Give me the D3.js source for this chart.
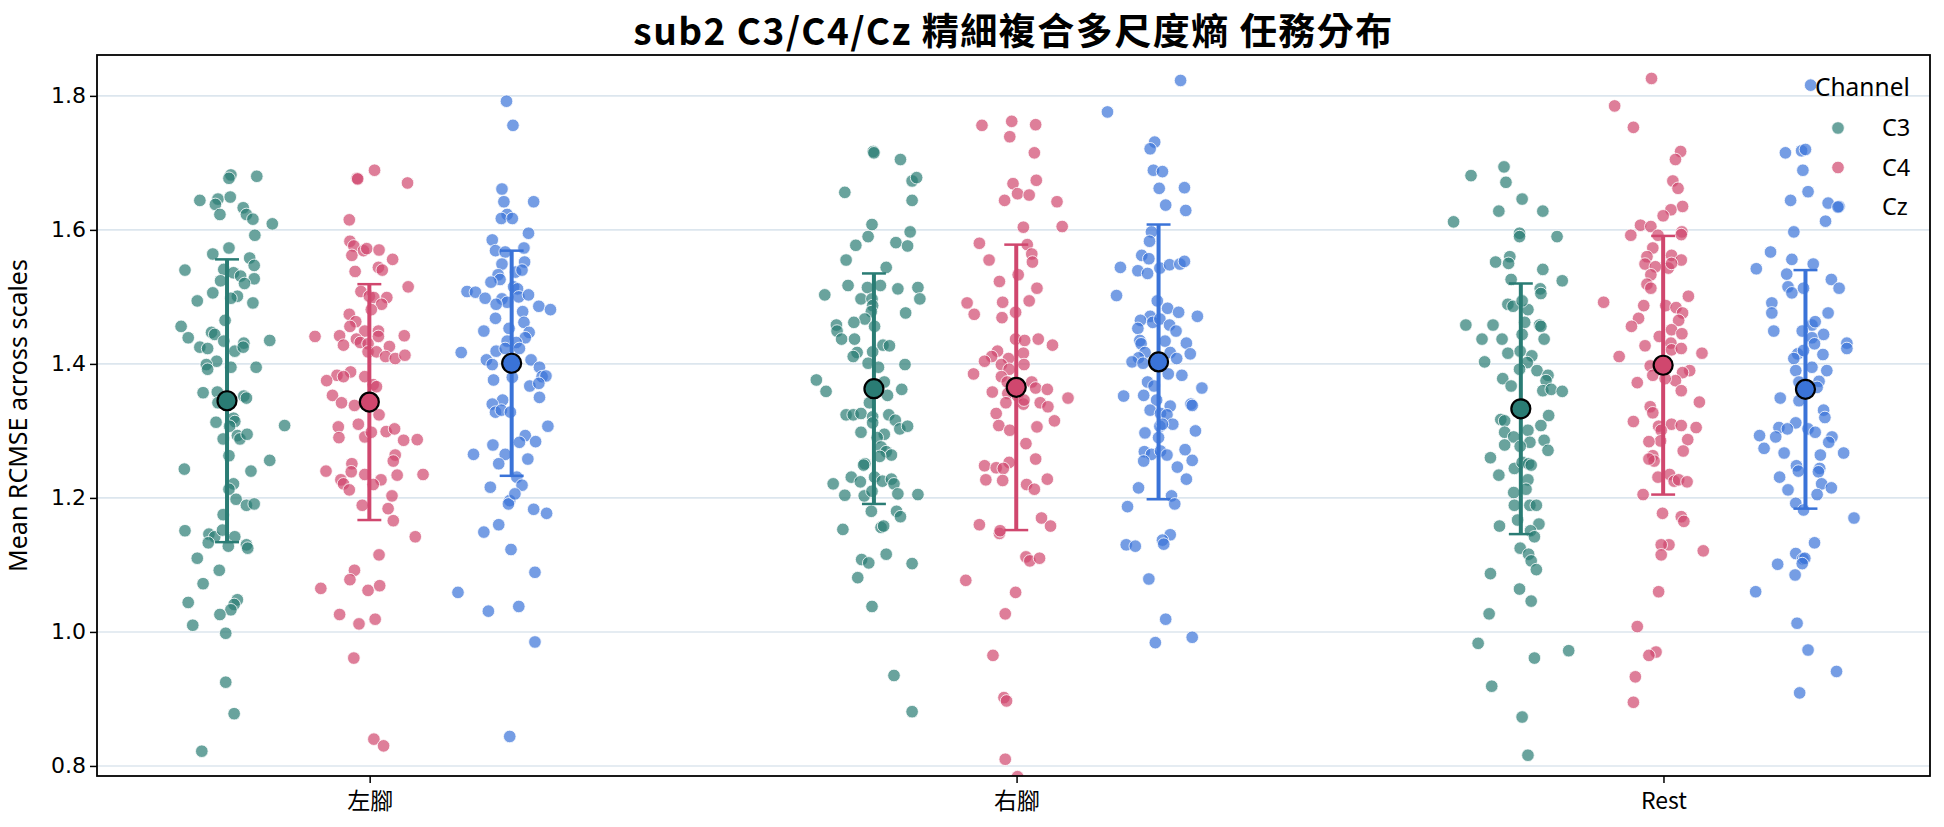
<!DOCTYPE html>
<html>
<head>
<meta charset="utf-8">
<script src="https://cdn.jsdelivr.net/npm/d3@7"></script>
<style>
  body { margin: 0; background: #fff; }
  svg { display: block; }
</style>
</head>
<body>
<svg id="chart"></svg>
<script>
// categories and channels
const categories = ["左腳", "右腳", "Rest"];
const channels = ["C3", "C4", "Cz"];
const yTicks = [0.8, 1.0, 1.2, 1.4, 1.6, 1.8];

// mean and sd per category, one array per channel
const meanC3 = [1.345, 1.363, 1.333];
const meanC4 = [1.343, 1.365, 1.398];
const meanCz = [1.401, 1.403, 1.362];
const sdC3 = [0.211, 0.172, 0.187];
const sdC4 = [0.176, 0.213, 0.193];
const sdCz = [0.168, 0.205, 0.178];

// strip points: [jitter (category units), mean RCMSE]
const leftC3 = [[0.006,1.682],[0.003,1.677],[0.046,1.680],[-0.042,1.644],[-0.014,1.646],[-0.018,1.638],[0.005,1.649],[-0.011,1.623],[0.025,1.633],[0.030,1.623],[0.040,1.616],[0.070,1.609],[0.043,1.592],[0.003,1.573],[-0.022,1.564],[0.035,1.558],[0.042,1.547],[-0.065,1.540],[-0.005,1.541],[0.010,1.536],[0.021,1.531],[0.042,1.527],[-0.010,1.524],[0.027,1.520],[0.016,1.501],[0.006,1.498],[-0.022,1.506],[-0.046,1.494],[0.040,1.491],[-0.071,1.456],[-0.003,1.465],[-0.060,1.439],[-0.024,1.447],[-0.019,1.444],[0.066,1.435],[-0.005,1.434],[0.026,1.431],[-0.042,1.425],[-0.030,1.423],[0.012,1.419],[0.025,1.425],[-0.016,1.404],[-0.032,1.399],[-0.030,1.392],[0.006,1.395],[0.045,1.395],[-0.037,1.357],[-0.015,1.358],[0.026,1.352],[0.030,1.349],[-0.014,1.342],[0.010,1.319],[0.012,1.314],[-0.017,1.313],[0.004,1.307],[0.089,1.308],[0.016,1.293],[0.020,1.288],[0.031,1.295],[-0.006,1.288],[0.003,1.263],[0.066,1.256],[-0.066,1.243],[0.037,1.240],[0.010,1.221],[0.003,1.213],[0.014,1.198],[0.030,1.189],[0.042,1.191],[-0.006,1.175],[-0.065,1.151],[-0.028,1.146],[-0.019,1.142],[-0.007,1.152],[0.012,1.142],[-0.029,1.133],[0.002,1.128],[0.030,1.130],[0.032,1.125],[-0.046,1.110],[-0.012,1.092],[-0.037,1.072],[-0.060,1.044],[0.016,1.048],[0.011,1.041],[0.006,1.033],[-0.011,1.026],[-0.053,1.010],[-0.002,0.998],[-0.002,0.925],[0.011,0.878],[-0.039,0.822]];
const leftC4 = [[0.008,1.689],[-0.019,1.677],[-0.018,1.676],[0.059,1.670],[-0.031,1.615],[-0.030,1.583],[-0.024,1.576],[-0.027,1.562],[-0.009,1.569],[-0.004,1.572],[0.015,1.570],[0.036,1.556],[0.014,1.544],[0.020,1.540],[-0.022,1.538],[0.060,1.515],[-0.013,1.508],[0.000,1.501],[0.007,1.499],[0.027,1.499],[0.019,1.489],[0.003,1.481],[-0.031,1.474],[-0.021,1.463],[-0.030,1.456],[-0.007,1.449],[0.014,1.449],[0.014,1.441],[-0.084,1.441],[-0.046,1.442],[0.054,1.442],[-0.040,1.428],[-0.020,1.437],[-0.014,1.432],[-0.002,1.430],[0.031,1.426],[-0.002,1.418],[0.011,1.418],[0.025,1.411],[0.040,1.408],[0.055,1.413],[-0.029,1.388],[-0.050,1.383],[-0.040,1.381],[-0.066,1.375],[-0.007,1.381],[0.006,1.369],[0.011,1.366],[-0.057,1.353],[-0.043,1.342],[-0.023,1.338],[0.015,1.324],[-0.017,1.310],[-0.048,1.306],[-0.047,1.290],[0.026,1.299],[0.039,1.303],[0.053,1.286],[0.074,1.287],[-0.007,1.291],[0.003,1.298],[0.040,1.264],[0.037,1.255],[-0.027,1.251],[-0.067,1.240],[-0.028,1.239],[-0.007,1.235],[-0.044,1.227],[-0.040,1.221],[-0.031,1.212],[0.018,1.227],[0.043,1.234],[0.083,1.235],[0.006,1.220],[0.035,1.203],[-0.011,1.189],[0.029,1.184],[0.037,1.166],[0.071,1.142],[0.015,1.115],[-0.023,1.092],[-0.030,1.078],[-0.075,1.065],[-0.002,1.062],[0.016,1.069],[-0.046,1.026],[-0.016,1.012],[0.009,1.019],[-0.024,0.961],[0.007,0.840],[0.022,0.830]];
const leftCz = [[-0.008,1.792],[0.002,1.756],[-0.015,1.661],[-0.012,1.642],[0.034,1.642],[-0.007,1.623],[-0.016,1.617],[0.001,1.617],[0.026,1.595],[-0.030,1.585],[-0.025,1.569],[-0.010,1.567],[0.019,1.573],[0.020,1.552],[-0.015,1.549],[0.006,1.537],[0.016,1.540],[-0.021,1.533],[-0.018,1.526],[-0.032,1.522],[0.003,1.515],[0.009,1.512],[-0.069,1.508],[-0.056,1.507],[-0.041,1.498],[-0.015,1.497],[-0.007,1.492],[0.011,1.500],[0.026,1.503],[0.042,1.486],[0.060,1.481],[-0.024,1.489],[0.017,1.478],[-0.025,1.468],[0.019,1.462],[-0.043,1.449],[-0.004,1.453],[0.027,1.447],[0.021,1.439],[-0.007,1.434],[0.007,1.432],[-0.024,1.419],[-0.010,1.423],[0.012,1.423],[-0.078,1.417],[-0.039,1.406],[-0.030,1.399],[0.030,1.406],[0.043,1.395],[0.047,1.381],[0.053,1.382],[0.001,1.380],[-0.028,1.376],[0.028,1.367],[0.042,1.371],[0.043,1.350],[-0.014,1.346],[-0.030,1.340],[-0.025,1.328],[-0.016,1.331],[-0.002,1.328],[0.056,1.307],[0.021,1.293],[0.012,1.283],[0.037,1.284],[-0.029,1.279],[-0.059,1.265],[-0.010,1.265],[-0.020,1.251],[0.025,1.258],[0.008,1.231],[-0.033,1.216],[0.016,1.219],[-0.003,1.196],[-0.005,1.191],[0.005,1.206],[0.034,1.183],[0.054,1.177],[-0.020,1.160],[-0.043,1.149],[-0.001,1.123],[0.036,1.089],[-0.083,1.059],[-0.036,1.031],[0.011,1.038],[0.036,0.985],[-0.003,0.844]];
const rightC3 = [[-0.001,1.717],[0.000,1.715],[0.041,1.705],[0.059,1.673],[0.066,1.678],[-0.045,1.656],[0.059,1.644],[-0.003,1.608],[-0.009,1.590],[0.056,1.597],[-0.028,1.577],[0.034,1.581],[0.052,1.576],[-0.043,1.555],[0.019,1.544],[-0.040,1.517],[-0.010,1.514],[0.010,1.517],[0.037,1.512],[0.068,1.514],[0.071,1.497],[-0.076,1.503],[-0.020,1.497],[-0.003,1.497],[-0.002,1.487],[-0.004,1.478],[0.049,1.476],[-0.014,1.467],[-0.031,1.462],[0.001,1.456],[-0.058,1.458],[-0.057,1.449],[-0.050,1.437],[-0.030,1.437],[0.014,1.428],[0.024,1.427],[-0.026,1.417],[-0.032,1.411],[-0.002,1.418],[-0.009,1.401],[0.007,1.395],[0.048,1.399],[-0.089,1.376],[-0.074,1.359],[0.016,1.373],[0.021,1.353],[0.043,1.362],[-0.007,1.342],[-0.043,1.324],[-0.032,1.324],[-0.020,1.326],[-0.002,1.321],[0.023,1.324],[0.033,1.316],[0.040,1.303],[0.052,1.307],[-0.002,1.312],[-0.020,1.298],[0.016,1.295],[0.005,1.290],[0.011,1.276],[0.019,1.269],[0.027,1.264],[0.009,1.262],[-0.014,1.251],[-0.016,1.249],[-0.063,1.221],[-0.035,1.231],[-0.021,1.224],[0.001,1.231],[0.013,1.225],[0.027,1.228],[0.031,1.221],[-0.045,1.204],[-0.015,1.203],[-0.003,1.210],[0.037,1.206],[0.068,1.205],[-0.004,1.180],[0.035,1.180],[0.041,1.172],[-0.048,1.153],[0.011,1.156],[0.015,1.158],[-0.019,1.108],[-0.008,1.103],[0.019,1.116],[0.059,1.102],[-0.025,1.081],[-0.003,1.038],[0.031,0.935],[0.059,0.881]];
const rightC4 = [[-0.053,1.756],[-0.007,1.762],[0.030,1.757],[-0.010,1.739],[0.028,1.715],[-0.005,1.669],[0.031,1.674],[0.002,1.654],[0.020,1.652],[-0.018,1.644],[0.063,1.642],[0.011,1.604],[0.071,1.605],[-0.057,1.580],[0.017,1.578],[0.024,1.564],[-0.042,1.555],[0.025,1.552],[0.003,1.533],[-0.026,1.523],[0.032,1.513],[-0.076,1.491],[-0.021,1.492],[0.020,1.494],[-0.065,1.474],[-0.022,1.469],[-0.001,1.477],[-0.001,1.437],[0.013,1.435],[0.034,1.437],[0.056,1.428],[-0.029,1.419],[-0.038,1.411],[-0.049,1.404],[-0.012,1.408],[0.011,1.416],[-0.023,1.399],[0.012,1.399],[-0.066,1.385],[-0.011,1.392],[-0.023,1.381],[-0.014,1.373],[0.024,1.373],[0.030,1.364],[0.048,1.362],[-0.037,1.358],[-0.013,1.356],[0.002,1.352],[0.011,1.340],[0.012,1.346],[0.037,1.342],[0.049,1.336],[0.080,1.349],[-0.031,1.326],[-0.016,1.342],[0.059,1.315],[-0.027,1.308],[-0.010,1.301],[0.032,1.306],[0.015,1.281],[0.030,1.258],[-0.011,1.253],[-0.049,1.248],[-0.031,1.245],[-0.020,1.244],[-0.047,1.227],[-0.021,1.226],[0.016,1.220],[0.028,1.213],[0.048,1.228],[-0.057,1.160],[0.039,1.170],[0.053,1.158],[-0.026,1.147],[-0.025,1.151],[0.015,1.112],[0.021,1.106],[0.036,1.110],[-0.078,1.077],[-0.001,1.059],[-0.017,1.027],[-0.036,0.965],[-0.019,0.902],[-0.015,0.897],[-0.017,0.810],[0.002,0.784]];
const rightCz = [[0.034,1.823],[-0.079,1.776],[-0.006,1.731],[-0.013,1.721],[-0.008,1.689],[0.006,1.687],[0.001,1.662],[0.040,1.663],[0.011,1.637],[0.042,1.629],[-0.011,1.597],[-0.014,1.583],[-0.026,1.562],[-0.015,1.557],[-0.059,1.544],[-0.032,1.539],[-0.017,1.535],[0.002,1.543],[0.017,1.548],[0.033,1.549],[0.040,1.553],[-0.065,1.502],[-0.002,1.494],[0.014,1.483],[0.031,1.477],[0.060,1.471],[-0.013,1.471],[-0.028,1.465],[-0.009,1.462],[0.002,1.467],[-0.032,1.453],[0.017,1.458],[0.027,1.449],[-0.029,1.435],[-0.027,1.430],[0.010,1.434],[0.043,1.431],[0.049,1.415],[-0.021,1.417],[-0.031,1.409],[-0.041,1.403],[0.018,1.417],[0.028,1.408],[-0.024,1.401],[0.015,1.385],[0.036,1.383],[0.067,1.364],[-0.054,1.352],[-0.023,1.353],[-0.017,1.373],[-0.007,1.367],[-0.003,1.346],[0.018,1.337],[0.050,1.340],[0.052,1.338],[-0.013,1.331],[0.003,1.326],[0.013,1.324],[0.022,1.310],[0.002,1.307],[0.006,1.310],[0.057,1.300],[-0.021,1.297],[0.000,1.290],[-0.022,1.269],[-0.011,1.265],[0.003,1.270],[0.013,1.264],[0.041,1.272],[0.052,1.256],[-0.023,1.255],[0.029,1.246],[0.043,1.228],[-0.031,1.215],[0.020,1.203],[0.025,1.191],[-0.048,1.187],[0.018,1.145],[0.006,1.137],[0.008,1.131],[-0.050,1.130],[-0.036,1.128],[-0.015,1.079],[0.011,1.019],[-0.005,0.984],[0.052,0.992]];
const restC3 = [[-0.026,1.694],[-0.077,1.681],[-0.023,1.671],[0.002,1.646],[-0.034,1.628],[0.034,1.628],[-0.104,1.612],[-0.002,1.595],[-0.002,1.590],[0.056,1.590],[-0.017,1.560],[-0.039,1.552],[-0.019,1.550],[0.034,1.541],[-0.015,1.526],[0.064,1.524],[0.030,1.512],[0.031,1.505],[-0.020,1.489],[-0.012,1.486],[0.011,1.481],[0.002,1.494],[-0.085,1.458],[-0.043,1.458],[0.006,1.462],[0.029,1.458],[0.031,1.456],[-0.060,1.437],[-0.029,1.437],[0.002,1.444],[0.036,1.437],[-0.020,1.416],[-0.001,1.419],[0.017,1.412],[-0.056,1.403],[0.010,1.402],[-0.002,1.392],[0.025,1.390],[-0.028,1.378],[-0.015,1.367],[0.042,1.383],[0.039,1.375],[0.034,1.360],[0.047,1.362],[0.064,1.359],[0.043,1.323],[-0.031,1.317],[-0.025,1.315],[0.031,1.308],[-0.025,1.298],[-0.011,1.291],[0.011,1.301],[0.014,1.283],[0.036,1.286],[-0.025,1.279],[-0.001,1.277],[0.042,1.271],[-0.047,1.260],[-0.010,1.244],[0.002,1.253],[0.012,1.251],[0.016,1.249],[-0.034,1.234],[0.011,1.227],[0.008,1.213],[-0.011,1.208],[0.014,1.189],[0.024,1.189],[-0.010,1.189],[-0.005,1.167],[0.028,1.161],[-0.033,1.158],[0.015,1.151],[0.021,1.142],[-0.001,1.125],[0.012,1.116],[0.016,1.106],[0.024,1.093],[-0.047,1.087],[-0.002,1.064],[0.016,1.046],[-0.049,1.027],[-0.066,0.983],[0.021,0.961],[0.074,0.972],[-0.045,0.919],[0.002,0.873],[0.011,0.816]];
const restC4 = [[-0.018,1.826],[-0.075,1.785],[-0.046,1.753],[0.027,1.717],[0.019,1.705],[0.015,1.673],[0.023,1.662],[0.030,1.635],[0.012,1.630],[0.000,1.621],[-0.035,1.607],[-0.019,1.605],[-0.050,1.592],[0.029,1.597],[0.028,1.593],[-0.008,1.592],[-0.016,1.573],[-0.025,1.560],[-0.028,1.549],[-0.012,1.545],[0.013,1.562],[0.028,1.555],[0.008,1.543],[0.013,1.550],[-0.019,1.533],[-0.025,1.519],[-0.019,1.513],[-0.092,1.492],[0.039,1.501],[-0.030,1.487],[0.004,1.487],[0.020,1.484],[0.030,1.476],[-0.038,1.468],[0.024,1.465],[-0.049,1.456],[0.013,1.451],[0.029,1.445],[-0.006,1.441],[0.012,1.431],[-0.028,1.427],[0.013,1.421],[0.028,1.423],[-0.068,1.411],[0.060,1.416],[-0.020,1.397],[0.041,1.390],[0.030,1.387],[-0.016,1.383],[0.019,1.375],[-0.040,1.372],[0.003,1.378],[0.028,1.360],[0.056,1.343],[-0.020,1.336],[-0.016,1.327],[-0.046,1.314],[0.013,1.310],[-0.007,1.307],[0.028,1.308],[-0.003,1.301],[0.051,1.305],[-0.004,1.285],[-0.022,1.284],[0.038,1.287],[0.031,1.270],[-0.016,1.263],[-0.014,1.255],[-0.022,1.258],[-0.008,1.231],[0.010,1.235],[0.017,1.225],[0.024,1.227],[0.037,1.224],[-0.031,1.205],[-0.001,1.177],[0.028,1.172],[0.032,1.165],[0.062,1.121],[0.009,1.130],[-0.003,1.130],[-0.003,1.115],[-0.007,1.060],[-0.040,1.008],[-0.011,0.970],[-0.022,0.965],[-0.043,0.933],[-0.046,0.895]];
const restCz = [[0.008,1.816],[-0.031,1.715],[-0.006,1.718],[0.000,1.720],[-0.004,1.689],[-0.023,1.644],[0.004,1.657],[0.035,1.640],[0.052,1.635],[0.031,1.613],[-0.018,1.597],[-0.054,1.567],[-0.076,1.542],[-0.021,1.556],[0.012,1.549],[-0.029,1.534],[0.040,1.526],[0.052,1.513],[-0.027,1.515],[-0.021,1.506],[-0.003,1.513],[-0.052,1.491],[-0.052,1.476],[0.035,1.476],[-0.049,1.449],[0.010,1.458],[0.015,1.463],[0.028,1.444],[-0.005,1.449],[0.010,1.439],[0.014,1.430],[0.064,1.431],[0.064,1.423],[-0.012,1.415],[-0.018,1.408],[-0.003,1.420],[0.027,1.414],[0.010,1.395],[0.033,1.390],[-0.015,1.390],[0.021,1.374],[-0.010,1.373],[-0.039,1.349],[-0.010,1.345],[0.018,1.365],[0.028,1.331],[0.030,1.320],[-0.015,1.312],[-0.041,1.305],[-0.028,1.303],[-0.046,1.291],[-0.071,1.293],[-0.064,1.274],[0.004,1.303],[0.015,1.298],[0.041,1.291],[0.036,1.283],[-0.033,1.267],[0.023,1.264],[0.059,1.267],[-0.014,1.248],[-0.011,1.240],[0.022,1.244],[0.020,1.239],[-0.040,1.231],[0.025,1.221],[0.040,1.215],[-0.027,1.212],[0.018,1.205],[-0.015,1.192],[-0.003,1.182],[0.075,1.170],[0.014,1.133],[-0.015,1.117],[-0.004,1.109],[-0.001,1.110],[-0.005,1.102],[-0.043,1.101],[-0.016,1.085],[-0.077,1.060],[-0.013,1.013],[0.004,0.973],[0.048,0.941],[-0.009,0.909]];

const width = 1944;
const height = 827;
const margin = {top: 55, right: 14, bottom: 51, left: 97};

const colors = {C3: "#2a7c74", C4: "#d0476e", Cz: "#3a73d8"};
const fontLatin = "'Noto Sans', 'Noto Sans CJK TC', sans-serif";
const fontCJK = "'Noto Sans CJK TC', 'Noto Sans', sans-serif";

// build groups from the named arrays
const pointsBy = {C3: [leftC3, rightC3, restC3], C4: [leftC4, rightC4, restC4], Cz: [leftCz, rightCz, restCz]};
const meanBy = {C3: meanC3, C4: meanC4, Cz: meanCz};
const sdBy = {C3: sdC3, C4: sdC4, Cz: sdCz};

const groups = [];
categories.forEach((cat, i) => {
  channels.forEach(ch => {
    groups.push({cat: i, ch, points: pointsBy[ch][i], mean: meanBy[ch][i], sd: sdBy[ch][i]});
  });
});

const svg = d3.select("#chart")
  .attr("width", width)
  .attr("height", height)
  .style("font-family", fontLatin);

const x = d3.scaleLinear([-0.4215, 2.412], [margin.left, width - margin.right]);
const y = d3.scaleLinear([0.785, 1.861], [height - margin.bottom, margin.top]);
const dodge = d3.scalePoint(channels, [-0.2205, 0.2195]);

svg.append("defs").append("clipPath").attr("id", "plotClip")
  .append("rect")
  .attr("x", margin.left).attr("y", margin.top)
  .attr("width", width - margin.left - margin.right)
  .attr("height", height - margin.top - margin.bottom);

// grid
svg.append("g")
  .selectAll("line")
  .data(yTicks)
  .join("line")
  .attr("x1", margin.left).attr("x2", width - margin.right)
  .attr("y1", d => y(d)).attr("y2", d => y(d))
  .attr("stroke", "#dce6ee")
  .attr("stroke-width", 1.6);

// strip points
const plot = svg.append("g").attr("clip-path", "url(#plotClip)");
groups.forEach(g => {
  plot.append("g")
    .selectAll("circle")
    .data(g.points)
    .join("circle")
    .attr("cx", d => x(g.cat + dodge(g.ch) + d[0]))
    .attr("cy", d => y(d[1]))
    .attr("r", 6.3)
    .attr("fill", colors[g.ch])
    .attr("fill-opacity", 0.7)
    .attr("stroke", "#fff")
    .attr("stroke-width", 0.8);
});

// error bars (mean ± sd) and mean markers
const capHalf = 0.0185;
groups.forEach(g => {
  const cx = g.cat + dodge(g.ch);
  const e = svg.append("g").attr("stroke", colors[g.ch]);
  e.append("line")
    .attr("x1", x(cx)).attr("x2", x(cx))
    .attr("y1", y(g.mean - g.sd)).attr("y2", y(g.mean + g.sd))
    .attr("stroke-width", 4);
  [g.mean - g.sd, g.mean + g.sd].forEach(v => {
    e.append("line")
      .attr("x1", x(cx - capHalf)).attr("x2", x(cx + capHalf))
      .attr("y1", y(v)).attr("y2", y(v))
      .attr("stroke-width", 2.5);
  });
  svg.append("circle")
    .attr("cx", x(cx))
    .attr("cy", y(g.mean))
    .attr("r", 9.5)
    .attr("fill", colors[g.ch])
    .attr("stroke", "#000")
    .attr("stroke-width", 2.2);
});

// axes
const yAxis = svg.append("g")
  .attr("transform", `translate(${margin.left},0)`)
  .call(d3.axisLeft(y).tickValues(yTicks).tickFormat(d3.format(".1f")).tickSize(7).tickPadding(4))
  .call(g => g.select(".domain").remove());
yAxis.selectAll(".tick line").attr("stroke", "#000").attr("stroke-width", 1.5);
yAxis.selectAll(".tick text")
  .attr("fill", "#000")
  .style("font-family", "'DejaVu Sans', sans-serif")
  .style("font-size", "22px");

const xAxis = svg.append("g")
  .attr("transform", `translate(0,${height - margin.bottom})`)
  .call(d3.axisBottom(x).tickValues([0, 1, 2]).tickFormat(i => categories[i]).tickSize(7).tickPadding(10))
  .call(g => g.select(".domain").remove());
xAxis.selectAll(".tick line").attr("stroke", "#000").attr("stroke-width", 1.5);
xAxis.selectAll(".tick text")
  .attr("fill", "#000")
  .style("font-family", fontCJK)
  .style("font-size", "23px");

// frame
svg.append("rect")
  .attr("x", margin.left).attr("y", margin.top)
  .attr("width", width - margin.left - margin.right)
  .attr("height", height - margin.top - margin.bottom)
  .attr("fill", "none")
  .attr("stroke", "#000")
  .attr("stroke-width", 1.8);

// y label
svg.append("text")
  .attr("transform", `translate(27,${(margin.top + height - margin.bottom) / 2}) rotate(-90)`)
  .attr("text-anchor", "middle")
  .style("font-size", "25px")
  .text("Mean RCMSE across scales");

// title
svg.append("text")
  .attr("x", (margin.left + width - margin.right) / 2)
  .attr("y", 45)
  .attr("text-anchor", "middle")
  .style("font-family", fontCJK)
  .style("font-size", "37px")
  .style("font-weight", "bold")
  .style("letter-spacing", "1.5px")
  .text("sub2 C3/C4/Cz 精細複合多尺度熵 任務分布");

// legend
const legend = svg.append("g").attr("transform", "translate(1815,96)");
legend.append("text")
  .attr("x", 0).attr("y", 0)
  .style("font-size", "24.5px")
  .text("Channel");
channels.forEach((ch, i) => {
  const row = legend.append("g").attr("transform", `translate(0,${32 + i * 39.5})`);
  row.append("circle")
    .attr("cx", 23).attr("cy", 0).attr("r", 6.3)
    .attr("fill", colors[ch]).attr("fill-opacity", 0.7)
    .attr("stroke", "#fff").attr("stroke-width", 0.8);
  row.append("text")
    .attr("x", 67).attr("y", 0)
    .attr("dy", "0.35em")
    .style("font-size", "23.5px")
    .text(ch);
});
</script>
</body>
</html>
